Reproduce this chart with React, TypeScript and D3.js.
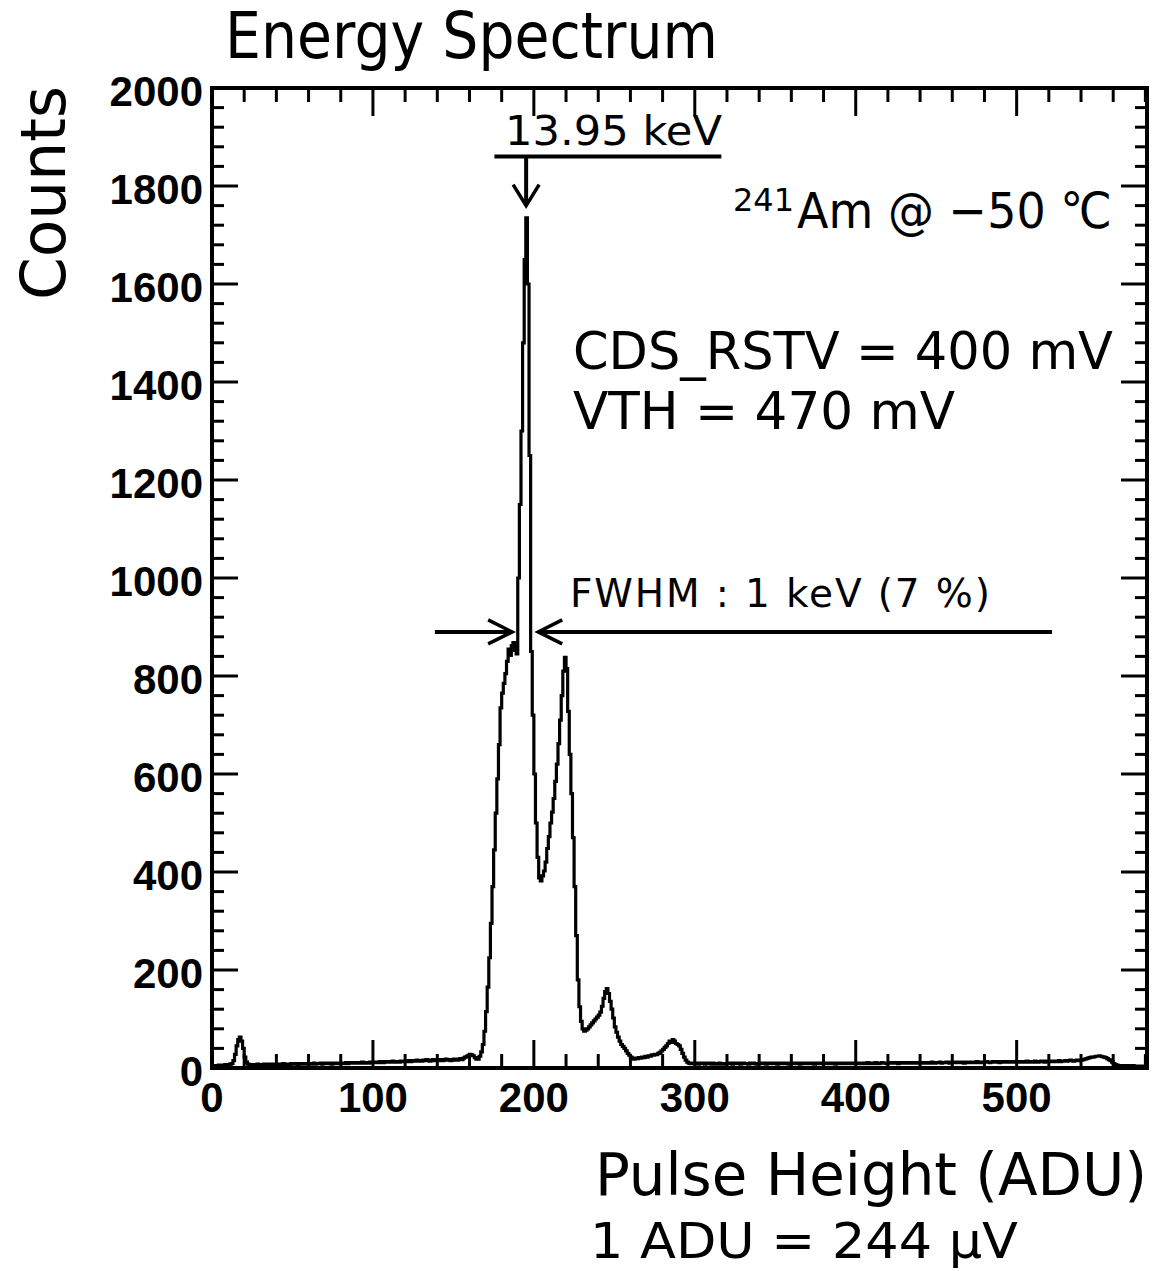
import React from "react";
import * as d3 from "d3";

// Histogram counts per 1-ADU bin, ADU 0 .. 580
const counts: number[] = [
  3, 4, 5, 5, 6, 6, 5, 6, 7, 6, 7, 8, 9, 15, 28, 45, 58, 63, 55, 40,
  22, 12, 8, 7, 6, 7, 6, 7, 8, 6, 7, 7, 8, 6, 7, 8, 7, 6, 8, 7,
  8, 7, 7, 8, 9, 7, 8, 8, 7, 9, 8, 8, 9, 7, 8, 9, 8, 8, 9, 8,
  9, 8, 9, 10, 8, 9, 9, 10, 8, 9, 10, 9, 9, 10, 8, 10, 9, 10, 10, 9,
  10, 9, 10, 11, 9, 10, 11, 10, 10, 11, 10, 11, 10, 12, 10, 11, 11, 10, 12, 11,
  12, 11, 12, 11, 13, 12, 11, 13, 12, 12, 13, 12, 14, 12, 13, 13, 12, 14, 13, 14,
  13, 14, 15, 13, 14, 15, 14, 16, 14, 15, 14, 16, 15, 17, 15, 14, 16, 17, 15, 16,
  15, 16, 17, 15, 16, 18, 16, 17, 15, 16, 18, 17, 16, 18, 19, 17, 20, 22, 24, 26,
  28, 27, 25, 21, 18, 18, 24, 33, 48, 75, 115, 165, 225, 295, 370, 445, 520, 590, 660, 735,
  765, 785, 805, 830, 855, 842, 862, 868, 852, 845, 1000, 1150, 1300, 1480, 1650, 1735, 1600, 1250, 850, 720,
  600, 500, 430, 388, 382, 392, 402, 420, 448, 472, 500, 522, 550, 585, 620, 662, 710, 760, 810, 838,
  815, 728, 640, 560, 470, 370, 270, 180, 125, 95, 80, 75, 77, 80, 84, 88, 92, 96, 100, 104,
  108, 114, 126, 142, 156, 162, 152, 136, 120, 102, 84, 73, 63, 55, 48, 44, 40, 35, 30, 26,
  22, 19, 18, 20, 19, 21, 20, 22, 21, 24, 22, 25, 24, 27, 26, 28, 27, 30, 32, 35,
  38, 42, 45, 50, 55, 52, 58, 55, 50, 48, 45, 38, 30, 22, 16, 12, 10, 9, 10, 9,
  10, 9, 8, 10, 9, 10, 8, 9, 10, 9, 8, 10, 9, 8, 9, 10, 8, 9, 8, 9,
  9, 10, 9, 8, 10, 9, 9, 10, 8, 9, 10, 9, 9, 8, 10, 9, 10, 9, 8, 9,
  10, 9, 9, 10, 8, 9, 10, 9, 9, 10, 9, 8, 10, 9, 9, 10, 9, 10, 8, 9,
  9, 10, 9, 9, 10, 8, 9, 10, 9, 10, 9, 9, 10, 9, 8, 10, 9, 10, 9, 9,
  10, 9, 9, 10, 9, 10, 9, 8, 10, 9, 10, 9, 10, 9, 9, 10, 9, 10, 9, 10,
  9, 10, 10, 9, 10, 9, 10, 11, 9, 10, 10, 9, 11, 10, 9, 10, 11, 10, 10, 9,
  10, 11, 10, 10, 11, 10, 9, 11, 10, 11, 10, 10, 11, 10, 11, 10, 10, 11, 10, 11,
  11, 10, 11, 10, 11, 11, 10, 12, 11, 10, 11, 11, 12, 10, 11, 11, 12, 11, 10, 12,
  11, 12, 11, 11, 12, 11, 12, 10, 11, 12, 11, 12, 12, 11, 12, 13, 11, 12, 12, 11,
  12, 13, 12, 11, 12, 13, 12, 12, 13, 11, 12, 13, 12, 13, 12, 12, 13, 12, 13, 12,
  13, 12, 13, 12, 12, 13, 14, 12, 13, 13, 12, 14, 13, 12, 13, 14, 13, 12, 14, 13,
  14, 13, 13, 14, 13, 14, 15, 13, 14, 14, 15, 14, 15, 16, 15, 14, 15, 16, 15, 16,
  16, 17, 18, 19, 20, 21, 22, 22, 23, 24, 24, 25, 24, 23, 22, 21, 19, 17, 15, 12,
  9, 7, 6, 5, 5, 4, 5, 4, 4, 5, 4, 4, 5, 4, 4, 3, 4, 4, 3, 4, 3,
];

const xMajorTicks = [0, 100, 200, 300, 400, 500];
const xTickLabels = ["0", "100", "200", "300", "400", "500"];
const yMajorTicks = [0, 200, 400, 600, 800, 1000, 1200, 1400, 1600, 1800, 2000];
const yTickLabels = ["0", "200", "400", "600", "800", "1000", "1200", "1400", "1600", "1800", "2000"];

// annotation anchors in data units (ADU, counts)
const peakArrow = { x: 195.2, yTop: 1860, yTip: 1760 };
const peakBar = { x0: 175.5, x1: 316.5, y: 1860 };
const fwhmLeft = { x0: 138.5, x1: 186.5, y: 890 };
const fwhmRight = { x0: 522, x1: 202.7, y: 890 };

const W = 1157;
const H = 1271;
const L = 212;
const R = 1147;
const T = 88;
const B = 1068;

const txtFont = "'DejaVu Sans', 'Open Sans', sans-serif";
const numFont = "'Liberation Sans', Arial, Helvetica, sans-serif";

export default function App() {
  const nb = counts.length;
  const x = d3.scaleLinear().domain([0, nb]).range([L, R]);
  const y = d3.scaleLinear().domain([0, 2000]).range([B, T]);

  const pts: [number, number][] = counts.map((c, i) => [i, c]);
  pts.push([nb, counts[nb - 1]]);
  const line = d3
    .line<[number, number]>()
    .x((d) => x(d[0]))
    .y((d) => y(d[1]))
    .curve(d3.curveStepAfter);

  const xMinor = d3.range(0, nb + 1, 20).filter((v) => v % 100 !== 0);
  const yMinor = d3.range(0, 2001, 40).filter((v) => v % 200 !== 0);

  const tickW = 3;
  const xMajLen = 28;
  const xMinLen = 14;
  const yMajLen = 26;
  const yMinLen = 12;

  const pa = { x: x(peakArrow.x), y0: y(peakArrow.yTop), y1: y(peakArrow.yTip) };
  const fl = { x0: x(fwhmLeft.x0), x1: x(fwhmLeft.x1), y: y(fwhmLeft.y) };
  const fr = { x0: x(fwhmRight.x0), x1: x(fwhmRight.x1), y: y(fwhmRight.y) };

  return (
    <div style={{ position: "absolute", left: 0, top: 0, width: W, height: H, background: "#fff" }}>
      <svg width={W} height={H} viewBox={`0 0 ${W} ${H}`} style={{ display: "block" }}>
        <rect x={0} y={0} width={W} height={H} fill="#fff" />

        {/* histogram */}
        <path d={line(pts) || ""} fill="none" stroke="#000" strokeWidth={3.2} strokeLinejoin="miter" />

        {/* ticks */}
        <g stroke="#000" strokeWidth={tickW}>
          {xMajorTicks.map((v) => (
            <g key={`xm${v}`}>
              <line x1={x(v)} x2={x(v)} y1={B} y2={B - xMajLen} />
              <line x1={x(v)} x2={x(v)} y1={T} y2={T + xMajLen} />
            </g>
          ))}
          {xMinor.map((v) => (
            <g key={`xn${v}`}>
              <line x1={x(v)} x2={x(v)} y1={B} y2={B - xMinLen} />
              <line x1={x(v)} x2={x(v)} y1={T} y2={T + xMinLen} />
            </g>
          ))}
          {yMajorTicks.map((v) => (
            <g key={`ym${v}`}>
              <line x1={L} x2={L + yMajLen} y1={y(v)} y2={y(v)} />
              <line x1={R} x2={R - yMajLen} y1={y(v)} y2={y(v)} />
            </g>
          ))}
          {yMinor.map((v) => (
            <g key={`yn${v}`}>
              <line x1={L} x2={L + yMinLen} y1={y(v)} y2={y(v)} />
              <line x1={R} x2={R - yMinLen} y1={y(v)} y2={y(v)} />
            </g>
          ))}
        </g>

        {/* frame */}
        <rect x={L} y={T} width={R - L} height={B - T} fill="none" stroke="#000" strokeWidth={4} />

        {/* tick labels */}
        <g fontFamily={numFont} fontWeight="bold" fontSize={42} fill="#000">
          {xMajorTicks.map((v, i) => (
            <text key={`xl${v}`} x={x(v)} y={1112} textAnchor="middle">
              {xTickLabels[i]}
            </text>
          ))}
          {yMajorTicks.map((v, i) => (
            <text key={`yl${v}`} x={203} y={y(v) + 17.5} textAnchor="end">
              {yTickLabels[i]}
            </text>
          ))}
        </g>

        {/* titles */}
        <g fontFamily={txtFont} fill="#000">
          <text x={225} y={58} fontSize={64} textLength={493} lengthAdjust="spacingAndGlyphs">
            Energy Spectrum
          </text>
          <text
            transform="translate(65,300) rotate(-90)"
            x={0}
            y={0}
            fontSize={62}
            textLength={214}
            lengthAdjust="spacingAndGlyphs"
          >
            Counts
          </text>
          <text x={595} y={1195} fontSize={58} textLength={552} lengthAdjust="spacingAndGlyphs">
            Pulse Height (ADU)
          </text>
          <text x={590} y={1258} fontSize={50} textLength={428} lengthAdjust="spacingAndGlyphs">
            1 ADU = 244 µV
          </text>

          <text x={505} y={145} fontSize={41} textLength={217} lengthAdjust="spacingAndGlyphs">
            13.95 keV
          </text>
          <text x={733} y={211} fontSize={32}>
            241
          </text>
          <text x={797} y={228} fontSize={50} textLength={315} lengthAdjust="spacingAndGlyphs">
            Am @ −50 ℃
          </text>
          <text x={573} y={369} fontSize={52} textLength={540} lengthAdjust="spacingAndGlyphs">
            CDS_RSTV = 400 mV
          </text>
          <text x={573} y={429} fontSize={52} textLength={382} lengthAdjust="spacingAndGlyphs">
            VTH = 470 mV
          </text>
          <text x={570} y={607} fontSize={39} textLength={420} lengthAdjust="spacing">
            FWHM : 1 keV (7 %)
          </text>
        </g>

        {/* annotations */}
        <g stroke="#000" strokeWidth={4} fill="none" strokeLinecap="butt">
          <line x1={x(peakBar.x0)} x2={x(peakBar.x1)} y1={y(peakBar.y)} y2={y(peakBar.y)} />
          <line x1={pa.x} x2={pa.x} y1={pa.y0} y2={pa.y1 - 2} />
          <polyline points={`${pa.x - 13},${pa.y1 - 21} ${pa.x},${pa.y1} ${pa.x + 13},${pa.y1 - 21}`} strokeWidth={3.5} />

          <line x1={fl.x0} x2={fl.x1 - 2} y1={fl.y} y2={fl.y} />
          <polyline points={`${fl.x1 - 24},${fl.y - 12} ${fl.x1},${fl.y} ${fl.x1 - 24},${fl.y + 12}`} strokeWidth={3.5} />

          <line x1={fr.x0} x2={fr.x1 + 2} y1={fr.y} y2={fr.y} />
          <polyline points={`${fr.x1 + 24},${fr.y - 12} ${fr.x1},${fr.y} ${fr.x1 + 24},${fr.y + 12}`} strokeWidth={3.5} />
        </g>
      </svg>
    </div>
  );
}
